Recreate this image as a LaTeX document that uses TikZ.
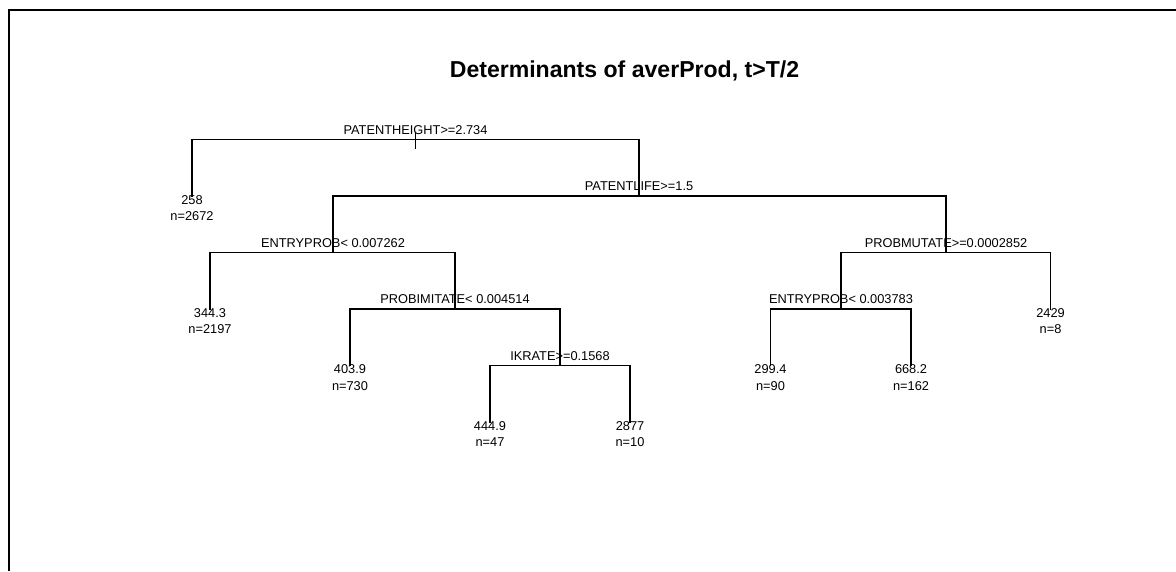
\documentclass[tikz,border=0pt]{standalone}
\usepackage{fontspec}
\setmainfont{Liberation Sans}
\usetikzlibrary{positioning}

\tikzset{
	branch/.style={line width=0.9pt},
	splitlabel/.style={inner sep=0pt, font=\fontsize{9.6}{12.4}\selectfont},
	leaflabel/.style={inner sep=0pt, align=center, font=\fontsize{9.6}{12.4}\selectfont},
}

\begin{document}
\begin{tikzpicture}[x=0.75pt, y=-0.75pt]
		
		% ---------------------
		% Proper size --- Bounding box
		\useasboundingbox (0,0) rectangle (1176,571);
		
		% ---------------------
		% Frame & title
		\coordinate (FrameLow) at (9,571);
		\coordinate (FrameCorner) at (9,10);
		\coordinate (FrameRight) at (1176,10);
		\draw[line width=1.5pt] (FrameLow) -- (FrameCorner) -- (FrameRight);
		
		\node[anchor=base, inner sep=0pt, font=\fontsize{17.3}{20}\selectfont\bfseries] (Title) at (624.5,77) {Determinants of averProd, t>T/2};
		
		% ---------------------
		% Splits & leaves
		
		\coordinate (Root) at (415.5,139.5);
		\path (Root) +(0,-7.5) coordinate (RootTop);
		\path (Root) +(0,9.5) coordinate (RootFoot);
		
		\path (Root) +(-223.5,57.0) coordinate (Leaf258);
		\path (Root) +(223.5,56.5) coordinate (PatLife);
		
		\path (PatLife) +(-306.0,56.5) coordinate (EntryA);
		\path (PatLife) +(307.0,56.5) coordinate (ProbMut);
		
		\path (EntryA) +(-123.0,57.0) coordinate (Leaf344);
		\path (EntryA) +(122.0,56.5) coordinate (ProbImit);
		
		\path (ProbImit) +(-105.0,57.0) coordinate (Leaf403);
		\path (ProbImit) +(105.0,56.5) coordinate (IKrate);
		
		\path (IKrate) +(-70.0,57.0) coordinate (Leaf444);
		\path (IKrate) +(70.0,57.0) coordinate (Leaf2877);
		
		\path (ProbMut) +(-105.0,56.5) coordinate (EntryB);
		\path (ProbMut) +(104.5,57.0) coordinate (Leaf2429);
		
		\path (EntryB) +(-70.5,57.0) coordinate (Leaf299);
		\path (EntryB) +(70.0,57.0) coordinate (Leaf668);
		
		% ---------------------
		% Split labels
		\node[splitlabel, above=3.75pt of Root] (RootLab) {PATENTHEIGHT>=2.734};
		\node[splitlabel, above=3.75pt of PatLife] (PatLifeLab) {PATENTLIFE>=1.5};
		\node[splitlabel, above=3.75pt of EntryA] (EntryALab) {ENTRYPROB< 0.007262};
		\node[splitlabel, above=3.75pt of ProbMut] (ProbMutLab) {PROBMUTATE>=0.0002852};
		\node[splitlabel, above=3.75pt of ProbImit] (ProbImitLab) {PROBIMITATE< 0.004514};
		\node[splitlabel, above=3.75pt of IKrate] (IKrateLab) {IKRATE>=0.1568};
		\node[splitlabel, above=3.75pt of EntryB] (EntryBLab) {ENTRYPROB< 0.003783};
		
		% ---------------------
		% Leaf labels
		\node[leaflabel, below=-1pt of Leaf258] (Val258) {258\\n=2672};
		\node[leaflabel, below=-1pt of Leaf344] (Val344) {344.3\\n=2197};
		\node[leaflabel, below=-1pt of Leaf403] (Val403) {403.9\\n=730};
		\node[leaflabel, below=-1pt of Leaf444] (Val444) {444.9\\n=47};
		\node[leaflabel, below=-1pt of Leaf2877] (Val2877) {2877\\n=10};
		\node[leaflabel, below=-1pt of Leaf299] (Val299) {299.4\\n=90};
		\node[leaflabel, below=-1pt of Leaf668] (Val668) {668.2\\n=162};
		\node[leaflabel, below=-1pt of Leaf2429] (Val2429) {2429\\n=8};
		
		% ---------------------
		\draw[branch] (RootTop) -- (RootFoot);
		
		\draw[branch] (Root) -| (Leaf258);
		\draw[branch] (Root) -| (PatLife);
		
		\draw[branch] (PatLife) -| (EntryA);
		\draw[branch] (PatLife) -| (ProbMut);
		
		\draw[branch] (EntryA) -| (Leaf344);
		\draw[branch] (EntryA) -| (ProbImit);
		
		\draw[branch] (ProbImit) -| (Leaf403);
		\draw[branch] (ProbImit) -| (IKrate);
		
		\draw[branch] (IKrate) -| (Leaf444);
		\draw[branch] (IKrate) -| (Leaf2877);
		
		\draw[branch] (ProbMut) -| (EntryB);
		\draw[branch] (ProbMut) -| (Leaf2429);
		
		\draw[branch] (EntryB) -| (Leaf299);
		\draw[branch] (EntryB) -| (Leaf668);
		
\end{tikzpicture}
\end{document}
